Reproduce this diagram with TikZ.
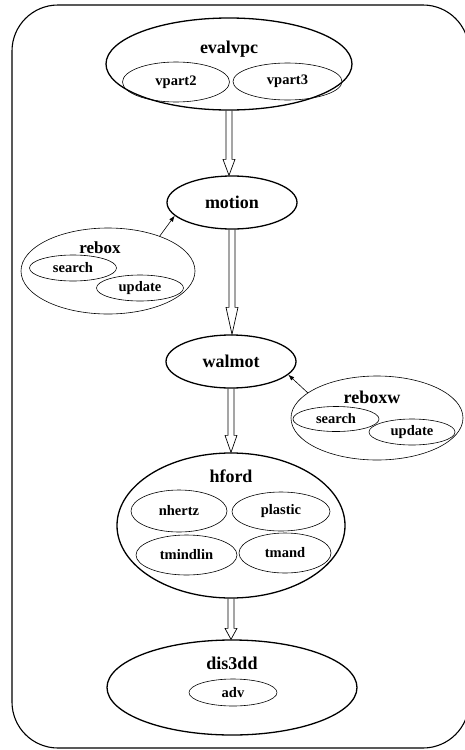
\documentclass[tikz,border=0pt]{standalone}
\usepackage{fontspec}
\setmainfont{Liberation Serif}
\usetikzlibrary{arrows.meta}
\usetikzlibrary{shapes.geometric}
\usetikzlibrary{calc}
\tikzset{big/.style = {draw, ellipse, line width=1.3pt, inner sep=0,
                       font=\fontsize{18}{20}\selectfont\bfseries}}
\tikzset{group/.style = {draw, ellipse, line width=0.6pt, inner sep=0}}
\tikzset{small/.style = {draw, ellipse, line width=0.6pt, inner sep=0,
                         font=\fontsize{14.5}{16}\selectfont\bfseries}}
\tikzset{title/.style = {inner sep=0, font=\fontsize{18}{20}\selectfont\bfseries}}
\tikzset{hollow/.style = {line width=0.7pt,
    to path={let \p1 = (\tikztostart), \p2 = (\tikztotarget) in
      (\x1-3pt, \y1) -- (\x1-3pt, \y2+#1) -- (\x1-6pt, \y2+#1) -- (\x1, \y2)
      -- (\x1+6pt, \y2+#1) -- (\x1+3pt, \y2+#1) -- (\x1+3pt, \y1)}},
         hollow/.default=16pt}
\tikzset{uses/.style = {-{Latex[length=6pt, width=4.5pt]}, line width=0.6pt}}

\begin{document}
\begin{tikzpicture}[x=1pt, y=-1pt]
    \useasboundingbox (0, 0) rectangle (465, 750);
    \clip (0, 0) rectangle (465, 750);
    \draw [line width=1.1pt, rounded corners=46pt] (12, 5) rectangle (469, 748);

    % evalvpc
    \node [big, minimum width=246, minimum height=92] (evalvpc) at (229, 64) {};
    \node [title] (evalvpc-t) at (229, 49) {evalvpc};
    \node [small, minimum width=107, minimum height=40] (vpart2) at (176, 82) {vpart2};
    \node [small, minimum width=109, minimum height=37] (vpart3) at (287.5, 81.5) {vpart3};

    % motion and rebox
    \node [big, minimum width=130, minimum height=53] (motion) at (232, 202.5) {motion};
    \node [group, minimum width=174, minimum height=86] (rebox) at (108, 271) {};
    \node [title, font=\fontsize{17}{19}\selectfont\bfseries] (rebox-t) at (100, 248) {rebox};
    \node [small, minimum width=87, minimum height=26] (search1) at (73, 268) {search};
    \node [small, minimum width=87, minimum height=26] (update1) at (140, 288) {update};

    % walmot and reboxw
    \node [big, minimum width=130, minimum height=53] (walmot) at (231, 361.5) {walmot};
    \node [group, minimum width=172, minimum height=84] (reboxw) at (377, 418) {};
    \node [title] (reboxw-t) at (372, 397) {reboxw};
    \node [small, minimum width=86, minimum height=25] (search2) at (336, 419) {search};
    \node [small, minimum width=86, minimum height=26] (update2) at (412, 432) {update};

    % hford
    \node [big, minimum width=228, minimum height=145] (hford) at (231, 525.5) {};
    \node [title] (hford-t) at (231, 476) {hford};
    \node [small, minimum width=96, minimum height=42] (nhertz) at (179, 511) {nhertz};
    \node [small, minimum width=98, minimum height=39] (plastic) at (281, 511.5) {plastic};
    \node [small, minimum width=101, minimum height=40] (tmindlin) at (186.5, 555) {tmindlin};
    \node [small, minimum width=92, minimum height=40] (tmand) at (285, 553) {tmand};

    % dis3dd
    \node [big, minimum width=250, minimum height=95] (dis3dd) at (232, 687.5) {};
    \node [title] (dis3dd-t) at (232, 663) {dis3dd};
    \node [small, minimum width=88, minimum height=27] (adv) at (233, 692.5) {adv};

    \draw [hollow] (evalvpc.south) to (motion.north);
    \draw [hollow=27pt] (motion.south) to (walmot.north);
    \draw [hollow=17pt] (walmot.south) to (hford.north);
    \draw [hollow=11pt] (hford.south) to (dis3dd.north);

    \draw [uses] (rebox.34) -- (motion.193);
    \draw [uses] (reboxw.160) -- (walmot.347);
\end{tikzpicture}
\end{document}
